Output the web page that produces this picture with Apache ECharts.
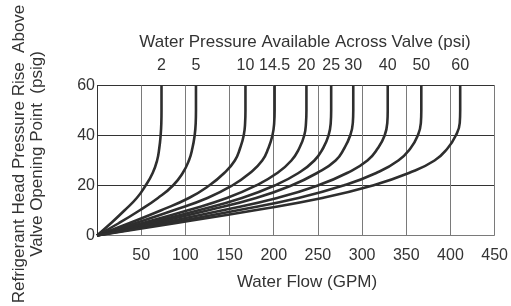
<!DOCTYPE html>
<html>
<head>
<meta charset="utf-8">
<script src="https://cdn.jsdelivr.net/npm/echarts@6/dist/echarts.min.js"></script>
<style>
  html, body { margin: 0; padding: 0; background: #fff; }
  #chart { width: 511px; height: 306px; }
</style>
</head>
<body>
<div id="chart"></div>
<script>
// head pressure rise (psig) at which each flow value below was read
const psiLevels = [0, 5, 10, 15, 20, 25, 30, 35, 40, 45, 50, 60];

// water flow (GPM), one array per available pressure
const flow_2psi   = [0, 16, 31, 45, 55, 63, 68, 70.5, 72, 72.8, 73, 73];
const flow_5psi   = [0, 25, 48, 69, 86, 97, 104, 108, 110.5, 111.7, 112, 112];
const flow_10psi  = [0, 37, 72, 104, 127, 144, 156, 162, 166, 167.6, 168, 168];
const flow_14psi  = [0, 44, 86, 125, 153, 173, 187, 194, 198.5, 200.5, 201, 201];
const flow_20psi  = [0, 52, 102, 147, 180, 204, 220, 229, 234.5, 236.5, 237, 237];
const flow_25psi  = [0, 58, 114, 164, 201, 228, 246, 256, 262, 264.5, 265, 265];
const flow_30psi  = [0, 64, 125, 180, 220, 249, 270, 280, 286.5, 289.5, 290, 290];
const flow_40psi  = [0, 72, 141, 204, 250, 283, 306, 318, 325.5, 328.5, 329, 329];
const flow_50psi  = [0, 81, 158, 228, 279, 316, 341, 355, 363, 366.5, 367, 367];
const flow_60psi  = [0, 90, 177, 255, 312, 353, 382, 397, 406, 410.5, 411, 411];

const curveFlows = [flow_2psi, flow_5psi, flow_10psi, flow_14psi, flow_20psi,
                    flow_25psi, flow_30psi, flow_40psi, flow_50psi, flow_60psi];

// top axis: label for each curve, placed at the curve's full-open flow
const pressureLabels = ['2', '5', '10', '14.5', '20', '25', '30', '40', '50', '60'];
const pressureFlows = [73, 112, 168, 201, 237, 265, 290, 329, 367, 411];

const yTicks = [0, 20, 40, 60];
const xTicks = [0, 50, 100, 150, 200, 250, 300, 350, 400, 450];

const FONT = '"Liberation Sans", Arial, sans-serif';
const TXT = '#333';

let chart = echarts.init(document.getElementById('chart'));

let series = curveFlows.map(function (flows, i) {
  return {
    name: pressureLabels[i] + ' psi',
    type: 'line',
    xAxisIndex: 0,
    smooth: 0.5,
    symbol: 'none',
    lineStyle: { color: '#2e2e2e', width: 2.6 },
    data: flows.map(function (f, k) { return [f, psiLevels[k]]; })
  };
});

let xGridColors = xTicks.map(function (v) { return v === 0 ? '#333' : '#7a7a7a'; });
let yGridColors = yTicks.map(function (v) { return v === 0 ? '#7a7a7a' : '#333'; });

let option = {
  animation: false,
  backgroundColor: '#fff',
  textStyle: { fontFamily: FONT },
  grid: { left: 97, right: 15, top: 85.5, bottom: 70.5 },
  xAxis: [
    {
      type: 'value',
      position: 'bottom',
      min: xTicks[0],
      max: xTicks[xTicks.length - 1],
      interval: 50,
      axisLine: { show: false },
      axisTick: { show: false },
      splitLine: { show: true, lineStyle: { color: xGridColors, width: 1 } },
      axisLabel: {
        showMinLabel: false,
        margin: 12,
        color: TXT,
        fontSize: 16,
        fontFamily: FONT
      }
    },
    {
      type: 'value',
      position: 'top',
      min: xTicks[0],
      max: xTicks[xTicks.length - 1],
      axisLine: { show: false },
      axisTick: { show: false },
      splitLine: { show: false },
      axisLabel: {
        customValues: pressureFlows,
        margin: 12,
        color: TXT,
        fontSize: 16,
        fontFamily: FONT,
        formatter: function (v) {
          let i = pressureFlows.indexOf(v);
          return i >= 0 ? pressureLabels[i] : '';
        }
      }
    }
  ],
  yAxis: {
    type: 'value',
    min: 0,
    max: 60,
    interval: 20,
    axisLine: { show: false },
    axisTick: { show: false },
    splitLine: { show: true, lineStyle: { color: yGridColors, width: 1 } },
    axisLabel: { margin: 2, color: TXT, fontSize: 16, fontFamily: FONT }
  },
  graphic: [
    {
      type: 'text',
      x: 305, y: 42,
      style: {
        text: 'Water Pressure Available Across Valve (psi)',
        fill: TXT, font: '17px ' + FONT,
        textAlign: 'center', textVerticalAlign: 'middle'
      }
    },
    {
      type: 'text',
      x: 307, y: 282,
      style: {
        text: 'Water Flow (GPM)',
        fill: TXT, font: '17px ' + FONT,
        textAlign: 'center', textVerticalAlign: 'middle'
      }
    },
    {
      type: 'text',
      x: 28, y: 154,
      rotation: Math.PI / 2,
      style: {
        text: 'Refrigerant Head Pressure Rise  Above\nValve Opening Point  (psig)',
        fill: TXT, font: '17px ' + FONT,
        lineHeight: 18,
        textAlign: 'center', textVerticalAlign: 'middle'
      }
    }
  ],
  series: series
};

chart.setOption(option);
</script>
</body>
</html>
